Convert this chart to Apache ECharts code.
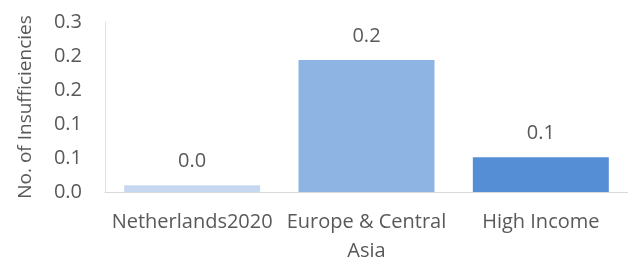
<!DOCTYPE html>
<html>
<head>
<meta charset="utf-8">
<script src="https://cdn.jsdelivr.net/npm/echarts@6/dist/echarts.min.js"></script>
<style>
  html, body { margin: 0; padding: 0; background: #fff; }
  #chart { width: 628px; height: 261px; }
</style>
</head>
<body>
<div id="chart"></div>
<script>
// 数据
const categories = ['Netherlands2020', 'Europe & Central\nAsia', 'High Income']
const values = [0.01, 0.194, 0.051]
const barColors = ['#c6d8f0', '#8eb4e3', '#558ed5']
const yTickLabels = ['0.0', '0.1', '0.1', '0.2', '0.2', '0.3']

const textColor = '#595959'
const font = 'Open Sans'
const fs = 20

const chart = echarts.init(document.getElementById('chart'))
chart.setOption({
  animation: false,
  grid: { left: 105, right: 0, top: 22, bottom: 69, outerBoundsMode: 'none' },
  xAxis: {
    type: 'category',
    data: categories,
    axisTick: { show: false },
    axisLine: { lineStyle: { color: '#d9d9d9', width: 1 } },
    axisLabel: {
      color: textColor, fontFamily: font, fontSize: fs,
      lineHeight: 29, margin: 16, interval: 0
    }
  },
  yAxis: {
    type: 'value',
    min: 0, max: 0.25, interval: 0.05,
    name: 'No. of Insufficiencies',
    nameLocation: 'middle',
    nameGap: 70,
    nameTextStyle: { color: textColor, fontFamily: font, fontSize: 19 },
    axisLine: { show: true, lineStyle: { color: '#dae3f3' } },
    axisTick: { show: false },
    splitLine: { show: false },
    axisLabel: {
      color: textColor, fontFamily: font, fontSize: fs, margin: 23,
      formatter: (v, i) => yTickLabels[i]
    }
  },
  series: [{
    type: 'bar',
    barCategoryGap: '22%',
    data: values.map((v, i) => ({ value: v, itemStyle: { color: barColors[i] } })),
    label: {
      show: true, position: 'top', distance: 14,
      color: textColor, fontFamily: font, fontSize: fs,
      formatter: p => p.value.toFixed(1)
    }
  }]
})
</script>
</body>
</html>
